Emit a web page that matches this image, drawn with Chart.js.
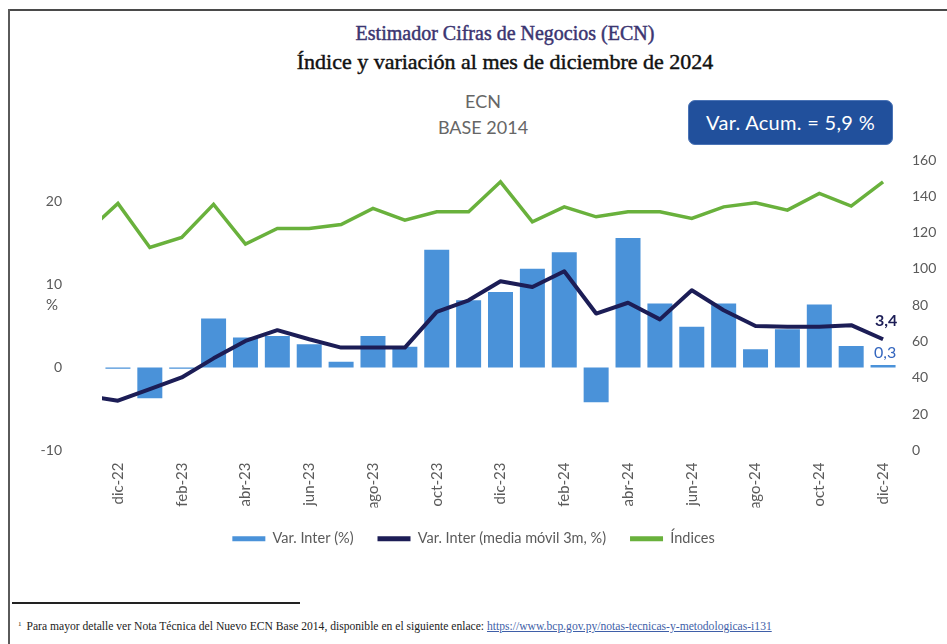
<!DOCTYPE html>
<html>
<head>
<meta charset="utf-8">
<script src="https://cdn.jsdelivr.net/npm/chart.js@4.4.1/dist/chart.umd.min.js"></script>
<style>
  html, body { margin: 0; padding: 0; background: #fff; }
  body { width: 947px; height: 644px; position: relative; overflow: hidden; }
  .frameTop { position: absolute; left: 8px; top: 9px; width: 939px; height: 2px; background: #4a4a4a; }
  .frameLeft { position: absolute; left: 8px; top: 9px; width: 2px; height: 635px; background: #5a5a5a; }
  .t { position: absolute; left: 505px; transform: translateX(-50%); white-space: nowrap;
       font-family: "Liberation Serif", serif; line-height: 28px; -webkit-text-stroke: 0.45px currentColor; }
  .t1 { top: 19px; color: #3b3571; font-size: 20px; }
  .t2 { top: 48px; color: #111; font-size: 22px; }
  .sub { position: absolute; left: 483px; transform: translateX(-50%); white-space: nowrap;
         font-family: Lato, sans-serif; font-size: 18px; color: #666; line-height: 24px; }
  .box { position: absolute; left: 688px; top: 100px; width: 203px; height: 43px; background: #21509c;
         border: 1px solid #4b74b6; border-radius: 7px; color: #fff; font-family: Lato, sans-serif;
         font-size: 20px; letter-spacing: 0.3px; line-height: 43px; text-align: center; box-sizing: content-box; }
  #wrap { position: absolute; left: 0; top: 0; width: 947px; height: 556px; }
  .fnLine { position: absolute; left: 12px; top: 602px; width: 288px; height: 1.5px; background: #222; }
  .fn { position: absolute; left: 18px; top: 616px; font-family: "Liberation Serif", serif; font-size: 11.6px;
        color: #222; white-space: nowrap; line-height: 16px; }
  .fn sup { font-size: 7px; vertical-align: 4px; margin-right: 5px; }
  .fn a { color: #3f5fa8; text-decoration: underline; }
</style>
</head>
<body>
<div class="frameTop"></div>
<div class="frameLeft"></div>
<div class="t t1">Estimador Cifras de Negocios (ECN)</div>
<div class="t t2">Índice y variación al mes de diciembre de 2024</div>
<div class="sub" style="top:89px">ECN</div>
<div class="sub" style="top:115px">BASE 2014</div>
<div class="box">Var. Acum. = 5,9 %</div>
<div id="wrap"><canvas id="c"></canvas></div>
<div class="fnLine"></div>
<div class="fn"><sup>1</sup>Para mayor detalle ver Nota Técnica del Nuevo ECN Base 2014, disponible en el siguiente enlace: <a>https://www.bcp.gov.py/notas-tecnicas-y-metodologicas-i131</a></div>
<script>
// ---- data ----
const categories = ['nov-22','dic-22','ene-23','feb-23','mar-23','abr-23','may-23','jun-23','jul-23','ago-23','sep-23','oct-23','nov-23','dic-23','ene-24','feb-24','mar-24','abr-24','may-24','jun-24','jul-24','ago-24','sep-24','oct-24','nov-24','dic-24'];
const varInter = [null, -0.15, -3.7, -0.15, 5.9, 3.6, 3.8, 2.8, 0.7, 3.8, 2.5, 14.2, 8.1, 9.1, 11.9, 13.9, -4.2, 15.6, 7.7, 4.9, 7.7, 2.2, 4.6, 7.6, 2.6, 0.3];
const mediaMovil = [-3.4, -4.0, -2.6, -1.2, 1.1, 3.2, 4.5, 3.4, 2.4, 2.4, 2.4, 6.7, 8.1, 10.4, 9.7, 11.6, 6.5, 7.8, 5.8, 9.3, 6.9, 5.0, 4.9, 4.9, 5.1, 3.4];
const indices = [120, 136.1, 111.8, 117.4, 135.6, 113.7, 122.3, 122.3, 124.5, 133.3, 126.9, 131.5, 131.5, 148, 126, 134.2, 128.7, 131.5, 131.5, 127.8, 134.2, 136.4, 132.4, 141.6, 134.6, 148];
const firstShown = 'dic-22';
const leftTicks = [-10, 0, 10, 20];
const rightTicks = [0, 20, 40, 60, 80, 100, 120, 140, 160];

const BLUE = '#4a92d9', NAVY = '#1c1d56', GREEN = '#69b13c';
Chart.defaults.font.family = 'Lato, sans-serif';
Chart.defaults.color = '#5a5a5a';

const fmt = v => v.toFixed(1).replace('.', ',');

const extras = {
  id: 'extras',
  afterDatasetsDraw(chart) {
    const ctx = chart.ctx;
    ctx.save();
    ctx.font = '15px Lato, sans-serif';
    ctx.fillStyle = '#555';
    ctx.textAlign = 'center';
    ctx.textBaseline = 'middle';
    const yl = chart.scales.y;
    ctx.fillText('%', 52, (yl.top + yl.bottom) / 2);
    const mLine = chart.getDatasetMeta(1);
    const pL = mLine.data[mLine.data.length - 1];
    ctx.font = 'bold 16px Lato, sans-serif';
    ctx.fillStyle = NAVY;
    ctx.fillText(fmt(mediaMovil[mediaMovil.length - 1]), pL.x + 3, pL.y - 18);
    const mBar = chart.getDatasetMeta(0);
    const pB = mBar.data[mBar.data.length - 1];
    ctx.font = '16px Lato, sans-serif';
    ctx.fillStyle = '#3466be';
    ctx.fillText(fmt(varInter[varInter.length - 1]), pB.x + 2, Math.min(pB.y, pB.base) - 12);
    ctx.restore();
  }
};

function legendLabels(chart) {
  return chart.data.datasets.map((ds, i) => ({
    text: ds.label,
    fillStyle: ds.legendColor,
    strokeStyle: ds.legendColor,
    lineWidth: 0,
    hidden: false,
    datasetIndex: i,
    fontColor: '#5a5a5a'
  }));
}

new Chart(document.getElementById('c'), {
  data: {
    labels: categories,
    datasets: [
      { type: 'bar', label: 'Var. Inter (%)', data: varInter, yAxisID: 'y', backgroundColor: BLUE,
        legendColor: BLUE, categoryPercentage: 0.8, barPercentage: 0.98, order: 3 },
      { type: 'line', label: 'Var. Inter (media móvil 3m, %)', data: mediaMovil, yAxisID: 'y',
        borderColor: NAVY, backgroundColor: NAVY, legendColor: NAVY, borderWidth: 4, pointRadius: 0,
        tension: 0, fill: false, order: 1, clip: 0, borderJoinStyle: 'round' },
      { type: 'line', label: 'Índices', data: indices, yAxisID: 'y1',
        borderColor: GREEN, backgroundColor: GREEN, legendColor: GREEN, borderWidth: 3.5, pointRadius: 0,
        tension: 0, fill: false, order: 2, clip: 0 }
    ]
  },
  options: {
    responsive: true,
    maintainAspectRatio: false,
    animation: false,
    events: [],
    layout: { padding: { left: 0, right: 0, top: 160, bottom: 0 } },
    plugins: {
      title: { display: false },
      tooltip: { enabled: false },
      legend: {
        position: 'bottom',
        labels: {
          boxWidth: 33, boxHeight: 5, padding: 24, color: '#5a5a5a',
          font: { size: 14.5 },
          generateLabels: legendLabels
        }
      }
    },
    scales: {
      x: {
        type: 'category',
        min: firstShown,
        offset: true,
        grid: { display: false, drawTicks: false },
        border: { display: false },
        ticks: {
          autoSkip: false, minRotation: 90, maxRotation: 90, padding: 12,
          font: { size: 15 }, color: '#5a5a5a',
          callback: function (value) { return (value % 2 === 1) ? categories[value] : ''; }
        },
        afterFit: s => { s.height = 57; }
      },
      y: {
        position: 'left', min: -10, max: 25,
        grid: { display: false, drawTicks: false },
        border: { display: false },
        ticks: { padding: 40, font: { size: 14 }, color: '#5a5a5a' },
        afterBuildTicks: s => { s.ticks = leftTicks.map(v => ({ value: v })); },
        afterFit: s => { s.width = 102; }
      },
      y1: {
        position: 'right', min: 0, max: 160,
        grid: { display: false, drawTicks: false },
        border: { display: false },
        ticks: { padding: 13, font: { size: 14 }, color: '#5a5a5a' },
        afterBuildTicks: s => { s.ticks = rightTicks.map(v => ({ value: v })); },
        afterFit: s => { s.width = 48; }
      }
    }
  },
  plugins: [extras]
});
</script>
</body>
</html>
